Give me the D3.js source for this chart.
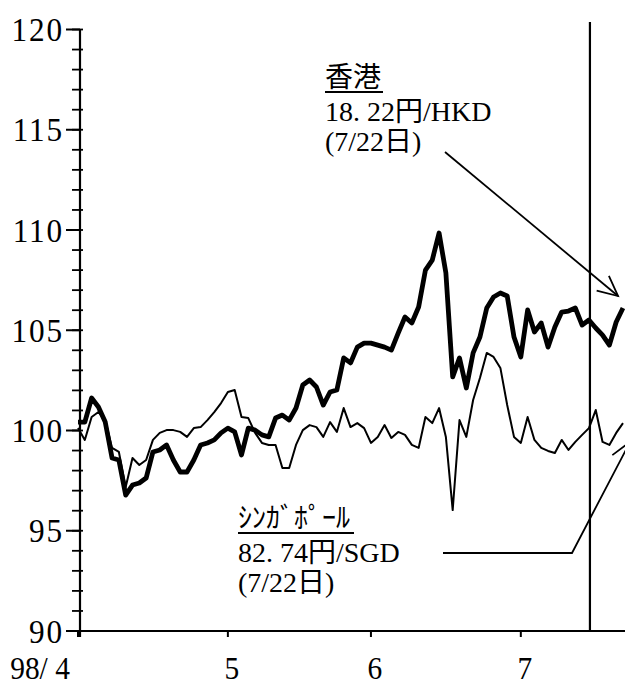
<!DOCTYPE html>
<html>
<head>
<meta charset="utf-8">
<script src="https://cdn.jsdelivr.net/npm/d3@7/dist/d3.min.js"></script>
<style>
html,body{margin:0;padding:0;background:#fff;}
svg{display:block;}
text{font-family:"Liberation Serif","Noto Sans CJK JP",serif;fill:#000;}
</style>
</head>
<body>
<svg id="chart" width="625" height="687"></svg>
<script>
// Business days, 1998-04-01 .. 1998-07-22
const dates = [
 "4/1","4/2","4/3","4/6","4/7","4/8","4/9","4/10","4/13","4/14","4/15","4/16","4/17","4/20","4/21","4/22","4/23","4/24","4/27","4/28","4/29","4/30",
 "5/1","5/4","5/5","5/6","5/7","5/8","5/11","5/12","5/13","5/14","5/15","5/18","5/19","5/20","5/21","5/22","5/25","5/26","5/27","5/28","5/29",
 "6/1","6/2","6/3","6/4","6/5","6/8","6/9","6/10","6/11","6/12","6/15","6/16","6/17","6/18","6/19","6/22","6/23","6/24","6/25","6/26","6/29","6/30",
 "7/1","7/2","7/3","7/6","7/7","7/8","7/9","7/10","7/13","7/14","7/15","7/16","7/17","7/20","7/21","7/22"
];
// Hong Kong (thick line), index
const hkd = [
 100.42,100.42,101.62,101.17,100.42,98.63,98.53,96.78,97.28,97.38,97.63,98.93,99.03,99.28,98.53,97.93,97.93,98.53,99.28,99.38,99.53,99.88,
 100.12,99.93,98.78,100.12,100.02,99.78,99.68,100.62,100.77,100.52,101.12,102.27,102.52,102.17,101.27,101.92,102.02,103.62,103.37,104.16,104.36,
 104.36,104.26,104.16,104.01,104.86,105.66,105.36,106.16,108.0,108.5,109.85,107.86,102.67,103.62,102.12,103.87,104.66,106.11,106.66,106.86,106.71,104.66,
 103.67,106.01,104.91,105.36,104.16,105.16,105.91,105.96,106.11,105.26,105.51,105.11,104.76,104.26,105.41,106.11
];
// Singapore (thin line), index
const sgd = [
 100.12,99.53,100.67,100.92,100.52,99.13,98.93,97.18,98.63,98.28,98.53,99.53,99.88,100.02,100.02,99.93,99.68,100.12,100.17,100.52,100.92,101.37,
 101.92,102.02,100.67,100.62,99.88,99.38,99.28,99.28,98.13,98.13,99.28,100.02,100.27,100.17,99.68,100.42,99.93,101.12,100.17,100.37,100.12,
 99.38,99.68,100.27,99.63,99.93,99.78,99.28,99.13,100.67,100.37,101.12,99.68,96.03,100.52,99.68,101.52,102.62,103.87,103.67,103.12,101.27,99.68,
 99.38,100.67,99.53,99.13,98.98,98.88,99.53,99.03,99.43,99.78,100.12,101.02,99.43,99.28,99.88,100.37
];
const yTicks = [90,95,100,105,110,115,120];
const xTickDates = ["4/1","5/1","6/1","7/1"];
const xTickLabels = ["98/ 4","5","6","7"];
const markerDate = "7/15";
const hkLabel = ["香港","18. 22円/HKD","(7/22日)"];
const sgLabel = ["ｼﾝｶﾞﾎﾟｰﾙ","82. 74円/SGD","(7/22日)"];

const svg = d3.select("#chart");
const x = d3.scaleLinear().domain([0, dates.length-1]).range([78, 623]);
const y = d3.scaleLinear().domain([90,120]).range([631, 29.5]);
const xd = d => x(dates.indexOf(d));

svg.append("rect").attr("width",625).attr("height",687).attr("fill","#fff");

// y axis
const yAxis = svg.append("g").attr("transform","translate(80,0)");
yAxis.append("line").attr("x1",0).attr("x2",0).attr("y1",y(120)).attr("y2",y(90)+6)
  .attr("stroke","#000").attr("stroke-width",2.2);
yAxis.selectAll("line.minor").data(d3.range(90,121,1)).join("line").attr("class","minor")
  .attr("x1",-8).attr("x2",3).attr("y1",d=>y(d)).attr("y2",d=>y(d))
  .attr("stroke","#000").attr("stroke-width",1.8);
yAxis.selectAll("line.major").data(yTicks).join("line").attr("class","major")
  .attr("x1",-14).attr("x2",0).attr("y1",d=>y(d)).attr("y2",d=>y(d))
  .attr("stroke","#000").attr("stroke-width",2);
yAxis.selectAll("text").data(yTicks).join("text")
  .attr("transform",d=>`translate(-16,${y(d)}) scale(0.92,1)`)
  .attr("dy","0.34em").attr("text-anchor","end").attr("letter-spacing",2)
  .attr("font-size",34).text(d=>d);

// x axis
const xAxis = svg.append("g");
xAxis.append("line").attr("x1",79).attr("x2",625).attr("y1",y(90)).attr("y2",y(90))
  .attr("stroke","#000").attr("stroke-width",2.2);
xAxis.selectAll("line.tick").data(xTickDates).join("line").attr("class","tick")
  .attr("x1",d=>xd(d)).attr("x2",d=>xd(d)).attr("y1",y(90)).attr("y2",y(90)+6)
  .attr("stroke","#000").attr("stroke-width",2);
xAxis.selectAll("text").data(xTickDates).join("text")
  .attr("transform",(d,i)=>`translate(${i===0 ? 40 : xd(d)+4},679) scale(0.92,1)`)
  .attr("text-anchor","middle")
  .attr("font-size",32).text((d,i)=>xTickLabels[i]);

// marker line
svg.append("line").attr("x1",xd(markerDate)+1).attr("x2",xd(markerDate)+1)
  .attr("y1",22).attr("y2",y(90)).attr("stroke","#000").attr("stroke-width",2.2);

const line = d3.line().x((d,i)=>x(i)).y(d=>y(d)).curve(d3.curveLinear);
svg.append("path").datum(sgd).attr("d",line).attr("fill","none")
  .attr("stroke","#000").attr("stroke-width",2).attr("stroke-linejoin","round");
svg.append("path").datum(hkd).attr("d",line).attr("fill","none")
  .attr("stroke","#000").attr("stroke-width",4.8).attr("stroke-linejoin","round");

// annotations
function label(lines, x0, y0, underlineW){
  const g = svg.append("g");
  g.append("text").attr("x",x0).attr("y",y0).attr("font-size",28).text(lines[0]);
  g.append("line").attr("x1",x0).attr("x2",x0+underlineW).attr("y1",y0+5).attr("y2",y0+5)
    .attr("stroke","#000").attr("stroke-width",2);
  g.append("text").attr("x",x0).attr("y",y0+34).attr("font-size",28).text(lines[1]);
  g.append("text").attr("x",x0).attr("y",y0+64).attr("font-size",28).text(lines[2]);
}
label(hkLabel, 325, 87, 58);
label(sgLabel, 238, 528, 116);

// arrows
function arrowHead(x1,y1,x2,y2,len){
  const a = Math.atan2(y2-y1,x2-x1);
  const w = 0.45;
  return `M${x2-len*Math.cos(a-w)},${y2-len*Math.sin(a-w)}L${x2},${y2}L${x2-len*Math.cos(a+w)},${y2-len*Math.sin(a+w)}`;
}
svg.append("path").attr("d","M445,152L618,296").attr("stroke","#000").attr("stroke-width",1.8).attr("fill","none");
svg.append("path").attr("d",arrowHead(445,152,618,296,22)).attr("stroke","#000").attr("stroke-width",1.8).attr("fill","none");
svg.append("path").attr("d","M443,553L572,553L630,442").attr("stroke","#000").attr("stroke-width",1.8).attr("fill","none");
svg.append("path").attr("d",arrowHead(572,553,630,442,22)).attr("stroke","#000").attr("stroke-width",1.8).attr("fill","none");
</script>
</body>
</html>
